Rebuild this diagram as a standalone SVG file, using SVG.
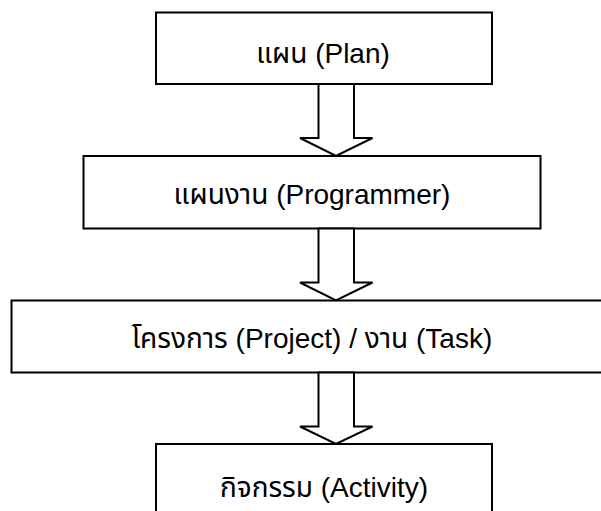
<svg xmlns="http://www.w3.org/2000/svg" width="601" height="511" viewBox="0 0 601 511">
<style>
.box{fill:#fff;stroke:#000;stroke-width:2}
.lbl{font-family:"Liberation Sans","Noto Sans Thai","Noto Sans",Arial,sans-serif;font-size:28px;fill:#000;text-anchor:middle}
.arr{fill:#fff;stroke:#000;stroke-width:2;stroke-linejoin:miter}
</style>
<rect width="601" height="511" fill="#fff"/>
<g id="node-plan">
<rect class="box" x="156" y="12.5" width="336" height="71.5"/>
<text class="lbl" x="323" y="63">แผน (Plan)</text>
</g>
<g id="node-programmer">
<rect class="box" x="83.5" y="156" width="457" height="72.5"/>
<text class="lbl" x="312" y="204">แผนงาน (Programmer)</text>
</g>
<g id="node-project">
<rect class="box" x="11.5" y="300.5" width="600" height="72"/>
<text class="lbl" x="312" y="348">โครงการ (Project) / งาน (Task)</text>
</g>
<g id="node-activity">
<rect class="box" x="156" y="444" width="336" height="80"/>
<text class="lbl" x="324" y="496.5">กิจกรรม (Activity)</text>
</g>
<g id="connectors">
<polygon class="arr" points="318.5,84 354,84 354,138 372.5,138 336,156 300,138 318.5,138"/>
<polygon class="arr" points="318.5,228.5 354,228.5 354,282.5 372.5,282.5 336,300.5 300,282.5 318.5,282.5"/>
<polygon class="arr" points="318.5,372.5 354,372.5 354,426.5 372.5,426.5 336,444 300,426.5 318.5,426.5"/>
</g>
</svg>
